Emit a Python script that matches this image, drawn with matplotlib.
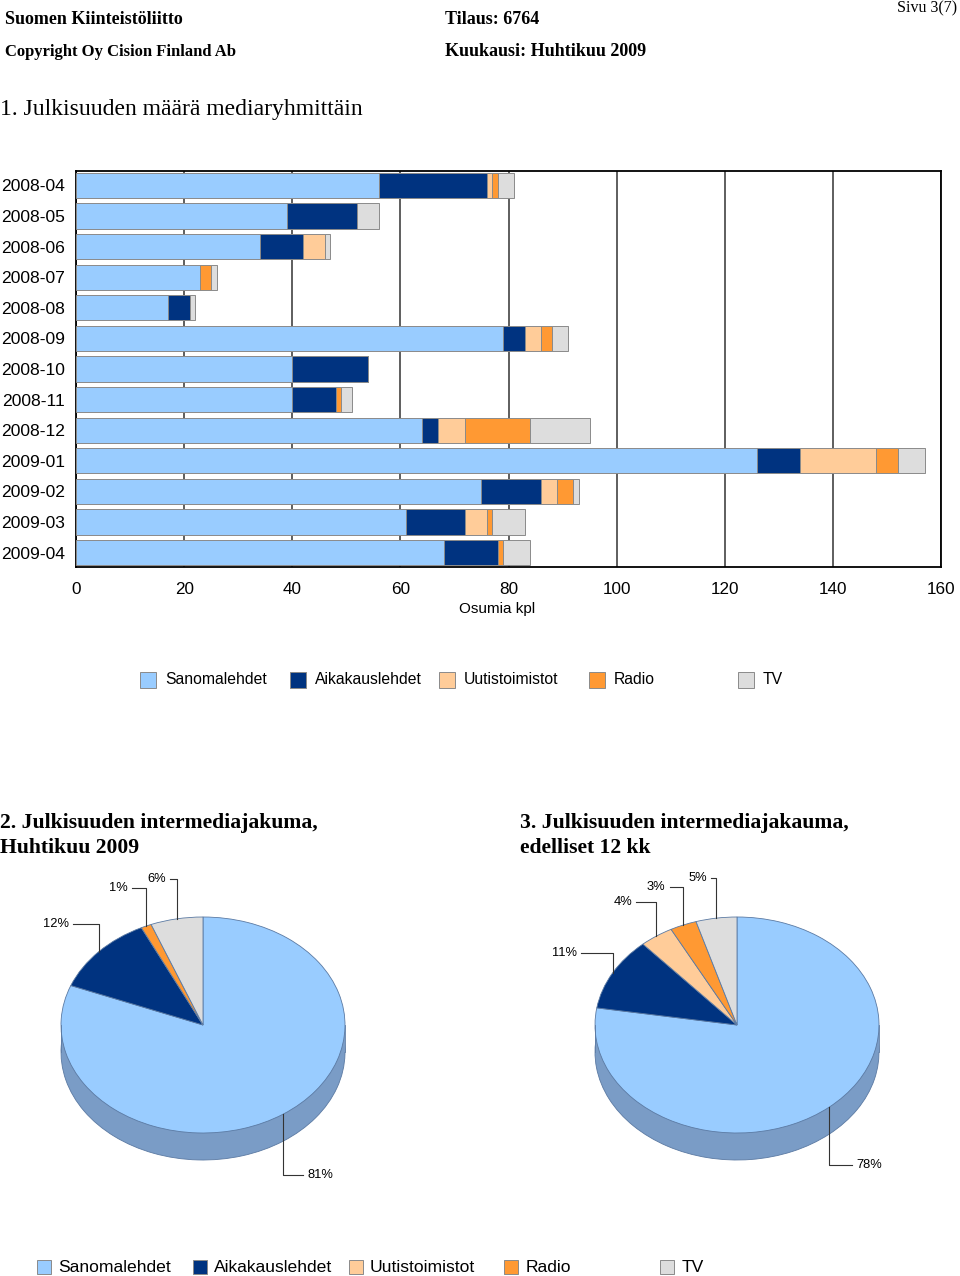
import numpy as np
import matplotlib
matplotlib.use("Agg")
import matplotlib.pyplot as plt
from matplotlib.patches import Rectangle

plt.rcParams['font.family'] = ['Liberation Sans', 'DejaVu Sans']

# data
months = ["2008-04", "2008-05", "2008-06", "2008-07", "2008-08", "2008-09", "2008-10",
          "2008-11", "2008-12", "2009-01", "2009-02", "2009-03", "2009-04"]
series = ["Sanomalehdet", "Aikakauslehdet", "Uutistoimistot", "Radio", "TV"]
sanomalehdet = [56, 39, 34, 23, 17, 79, 40, 40, 64, 126, 75, 61, 68]
aikakauslehdet = [20, 13, 8, 0, 4, 4, 14, 8, 3, 8, 11, 11, 10]
uutistoimistot = [1, 0, 4, 0, 0, 3, 0, 0, 5, 14, 3, 4, 0]
radio = [1, 0, 0, 2, 0, 2, 0, 1, 12, 4, 3, 1, 1]
tv = [3, 4, 1, 1, 1, 3, 0, 2, 11, 5, 1, 6, 5]
x_ticks = [0, 20, 40, 60, 80, 100, 120, 140, 160]

colors = ["#99CCFF", "#003380", "#FFCC99", "#FF9933", "#DDDDDD"]
side_color = "#7A9CC6"

W, H = 960, 1276
fig = plt.figure(figsize=(W / 100, H / 100), dpi=100)


def fx(px):
    return px / W


def fy(py):
    return 1 - py / H


# header
serif = ['Liberation Serif', 'DejaVu Serif']
fig.text(fx(5), fy(20), "Suomen Kiinteistöliitto", family=serif, weight='bold', fontsize=13, va='center')
fig.text(fx(5), fy(52), "Copyright Oy Cision Finland Ab", family=serif, weight='bold', fontsize=12, va='center')
fig.text(fx(445), fy(20), "Tilaus: 6764", family=serif, weight='bold', fontsize=13, va='center')
fig.text(fx(445), fy(52), "Kuukausi: Huhtikuu 2009", family=serif, weight='bold', fontsize=13, va='center')
fig.text(fx(957), fy(8), "Sivu 3(7)", family=serif, fontsize=11.5, va='center', ha='right')
fig.text(fx(0), fy(110), "1. Julkisuuden määrä mediaryhmittäin", family=serif, fontsize=17, va='center')

# bar chart
ax = fig.add_axes([fx(76), fy(567), fx(941) - fx(76), fy(171) - fy(567)])
data = [sanomalehdet, aikakauslehdet, uutistoimistot, radio, tv]
y = np.arange(len(months))
left = np.zeros(len(months))
for vals, c in zip(data, colors):
    ax.barh(y, vals, left=left, height=0.82, color=c, edgecolor='#8a8a8a', linewidth=0.7, zorder=3)
    left += np.array(vals)

ax.set_xlim(0, 160)
ax.set_ylim(len(months) - 0.53, -0.47)
ax.set_yticks(y)
ax.set_yticklabels(months, fontsize=12.6)
ax.set_xticks(x_ticks)
ax.set_xticklabels([str(t) for t in x_ticks], fontsize=12.3)
ax.tick_params(axis='both', length=0)
ax.tick_params(axis='x', pad=10.5)
ax.tick_params(axis='y', pad=8)
ax.grid(axis='x', color='#333333', linewidth=1.1, zorder=0)
ax.set_axisbelow(True)
for s in ax.spines.values():
    s.set_linewidth(1.3)
    s.set_color('black')
fig.text(fx(497), fy(609), "Osumia kpl", fontsize=11, ha='center', va='center')

# legend 1
for i, (name, c) in enumerate(zip(series, colors)):
    x0 = 140 + i * 149.5
    fig.patches.append(Rectangle((fx(x0), fy(688)), 16 / W, 16 / H, transform=fig.transFigure,
                                 facecolor=c, edgecolor='#8a8a8a', linewidth=0.7))
    fig.text(fx(x0 + 25), fy(680), name, fontsize=11.3, va='center')


# pies
def draw_pie(cx, cy, vals):
    rx, ry, d = 142, 108, 0.25
    x0, x1, y0, y1 = cx - 200, cx + 200, cy - 170, cy + 175
    pa = fig.add_axes([fx(x0), fy(y1), fx(x1) - fx(x0), fy(y0) - fy(y1)])
    wp = dict(edgecolor='#5b7aa3', linewidth=0.6)
    # side of the disc
    pa.pie(vals, center=(0, -d), startangle=90, counterclock=False,
           colors=[side_color] * len(vals), wedgeprops=wp)
    pa.add_patch(Rectangle((-1, -d), 2, d, facecolor=side_color, linewidth=0))
    pa.plot([-1, -1], [-d, 0], color='#5b7aa3', lw=0.6)
    pa.plot([1, 1], [-d, 0], color='#5b7aa3', lw=0.6)
    wedges, _ = pa.pie(vals, startangle=90, counterclock=False, colors=colors, wedgeprops=wp)
    pa.set_aspect('auto')
    pa.set_xlim((x0 - cx) / rx, (x1 - cx) / rx)
    pa.set_ylim((cy - y1) / ry, (cy - y0) / ry)
    pa.axis('off')
    tot = float(sum(vals))
    for v, w in zip(vals, wedges):
        if v == 0:
            continue
        a = np.deg2rad((w.theta1 + w.theta2) / 2)
        px, py = np.cos(a), np.sin(a)
        ly = 1.38 * py - (d if py < 0 else 0)
        ex = 1.25 * px
        pa.plot([px, px, ex], [py, ly, ly], color='#333333', lw=0.8, clip_on=False)
        if px < 0:
            pa.text(ex - 0.03, ly, f"{round(v / tot * 100)}%", ha='right', va='center', fontsize=9.3)
        else:
            pa.text(ex + 0.03, ly, f"{round(v / tot * 100)}%", ha='left', va='center', fontsize=9.3)


last_month = [s[-1] for s in data]
last_12 = [sum(s[-12:]) for s in data]

fig.text(fx(0), fy(823), "2. Julkisuuden intermediajakuma,", family=serif, weight='bold', fontsize=15.6, va='center')
fig.text(fx(0), fy(848), "Huhtikuu 2009", family=serif, weight='bold', fontsize=15.6, va='center')
fig.text(fx(520), fy(823), "3. Julkisuuden intermediajakauma,", family=serif, weight='bold', fontsize=15.6, va='center')
fig.text(fx(520), fy(848), "edelliset 12 kk", family=serif, weight='bold', fontsize=15.6, va='center')

draw_pie(203, 1025, last_month)
draw_pie(737, 1025, last_12)

# legend 2
for i, (name, c) in enumerate(zip(series, colors)):
    x0 = 37 + i * 155.8
    fig.patches.append(Rectangle((fx(x0), fy(1274)), 14 / W, 14 / H, transform=fig.transFigure,
                                 facecolor=c, edgecolor='#8a8a8a', linewidth=0.7))
    fig.text(fx(x0 + 21), fy(1267), name, fontsize=12.6, va='center')

fig.savefig("out.png", dpi=100)
